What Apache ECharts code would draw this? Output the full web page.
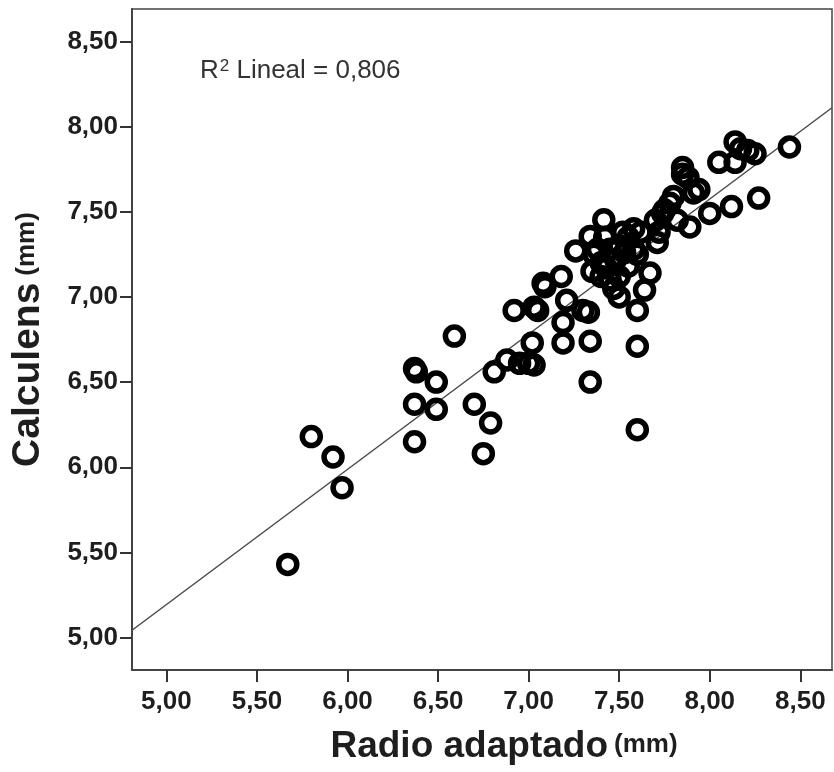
<!DOCTYPE html>
<html><head><meta charset="utf-8">
<script src="https://cdn.jsdelivr.net/npm/echarts@6/dist/echarts.min.js"></script>
<style>html,body{margin:0;padding:0;background:#fff}#c{width:834px;height:772px}</style>
</head><body><div id="c"></div>
<script>
// Radio adaptado (mm)
const radio = [5.67,5.80,5.92,5.97,6.37,6.38,6.37,6.37,6.49,6.49,6.59,6.70,6.79,6.75,6.81,6.88,6.92,6.95,7.00,7.03,7.02,7.03,7.05,7.08,7.09,7.18,7.19,7.19,7.21,7.26,7.34,7.30,7.33,7.34,7.34,7.60,7.60,7.60,7.64,7.50,7.67,7.60,7.71,7.415,
 7.35,7.40,7.45,7.42,7.48,7.50,7.52,7.55,7.45,7.38,7.50,7.55,7.58,7.47,7.36,7.43,7.53,7.62,7.40,7.58,
 7.74,7.80,7.78,7.91,7.89,7.75,7.85,7.85,7.94,8.00,8.12,8.27,8.05,8.14,8.14,8.17,8.21,8.25,8.44,7.88,7.82,7.70,7.72];
// Calculens (mm)
const calculens = [5.43,6.18,6.06,5.88,6.58,6.56,6.37,6.15,6.50,6.34,6.77,6.37,6.26,6.08,6.56,6.63,6.92,6.61,6.61,6.60,6.73,6.94,6.92,7.08,7.06,7.12,6.85,6.73,6.98,7.27,7.355,6.92,6.91,6.74,6.50,6.71,6.22,6.92,7.04,7.00,7.14,7.25,7.32,7.453,
 7.15,7.20,7.28,7.35,7.22,7.30,7.38,7.18,7.10,7.28,7.12,7.35,7.40,7.05,7.25,7.17,7.26,7.38,7.12,7.28,
 7.49,7.59,7.55,7.61,7.41,7.51,7.76,7.72,7.63,7.49,7.53,7.58,7.79,7.79,7.91,7.87,7.86,7.84,7.88,7.70,7.45,7.45,7.38];
const tickValues = [5.0,5.5,6.0,6.5,7.0,7.5,8.0,8.5];
const fitIntercept = 1.226, fitSlope = 0.7936;

const xMin = 4.81, xMax = 8.675, yMin = 4.81, yMax = 8.69;
const pts = radio.map((x,i)=>[x,calculens[i]]);
const fitLine = [[xMin, fitIntercept+fitSlope*xMin],[xMax, fitIntercept+fitSlope*xMax]];
const fmt = v => v.toFixed(2).replace('.', ',');
const font = 'Liberation Sans, Arial, sans-serif';
const lab = {fontSize:26,fontWeight:'bold',color:'#1e1e1e',fontFamily:font};

const chart = echarts.init(document.getElementById('c'));
chart.setOption({
  animation:false,
  grid:{left:132,right:2,top:9,bottom:102,show:true,borderColor:'#444',borderWidth:1.5,backgroundColor:'#fff'},
  xAxis:{type:'value',min:xMin,max:xMax,
    axisLine:{show:true,lineStyle:{color:'#444',width:2}},
    axisTick:{show:true,customValues:tickValues,length:12,lineStyle:{color:'#333',width:2}},
    axisLabel:Object.assign({customValues:tickValues,formatter:fmt,margin:19},lab),
    splitLine:{show:false},
    name:'{a|Radio adaptado}{b|(mm)}',nameLocation:'middle',nameGap:58,
    nameTextStyle:{rich:{
      a:{fontSize:37,fontWeight:'bold',color:'#1e1e1e',fontFamily:font,padding:[0,0,0,44]},
      b:{fontSize:26,fontWeight:'bold',color:'#1e1e1e',fontFamily:font,padding:[0,0,4,6]}}}
  },
  yAxis:{type:'value',min:yMin,max:yMax,
    axisLine:{show:true,lineStyle:{color:'#444',width:2}},
    axisTick:{show:true,customValues:tickValues,length:12,lineStyle:{color:'#333',width:2}},
    axisLabel:Object.assign({customValues:tickValues,formatter:fmt,margin:14},lab),
    splitLine:{show:false},
    name:'{a|Calculens}{b|(mm)}',nameLocation:'middle',nameGap:84,
    nameTextStyle:{rich:{
      a:{fontSize:39,fontWeight:'bold',color:'#1e1e1e',fontFamily:font},
      b:{fontSize:26,fontWeight:'bold',color:'#1e1e1e',fontFamily:font,padding:[0,0,4,7]}}}
  },
  graphic:[{type:'text',left:200,top:58,style:{
    text:'{r|R}{s|2}{r| Lineal = 0,806}',
    rich:{r:{fontSize:26,fontFamily:font,fill:'#333',color:'#333'},
          s:{fontSize:17,fontFamily:font,fill:'#333',color:'#333',verticalAlign:'top',padding:[0,0,0,1]}}}}],
  series:[
    {type:'line',data:fitLine,symbol:'none',silent:true,lineStyle:{color:'#4a4a4a',width:1.5},z:1},
    {type:'scatter',data:pts,symbol:'circle',symbolSize:18,z:2,
      itemStyle:{color:'rgba(255,255,255,0)',borderColor:'#000',borderWidth:5.5,opacity:1}}
  ]
});
</script></body></html>
